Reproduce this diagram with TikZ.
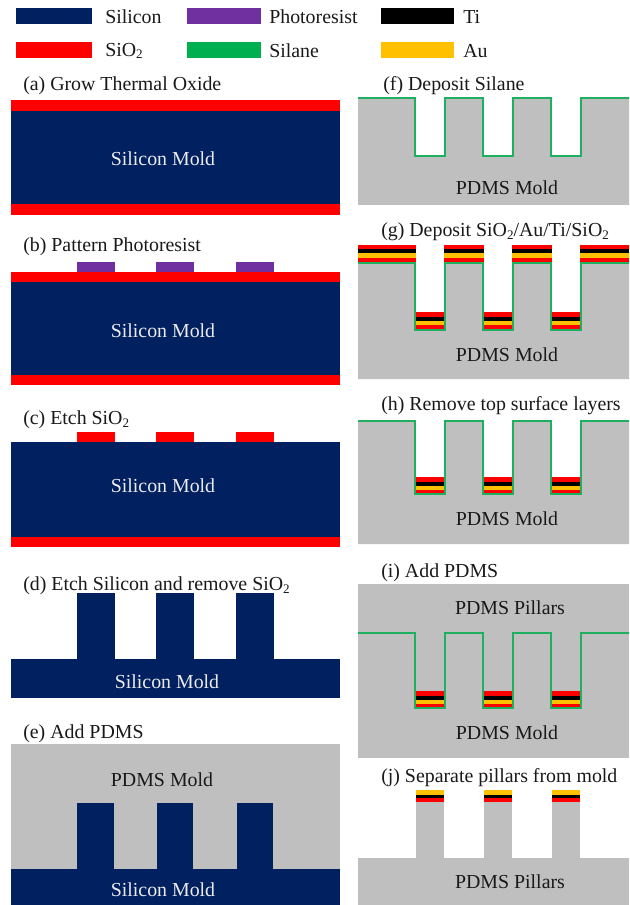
\documentclass[tikz,border=0pt]{standalone}
\usepackage{fontspec}
\setmainfont{Liberation Serif}
\definecolor{navy}{HTML}{002060}
\definecolor{oxred}{HTML}{FF0000}
\definecolor{purp}{HTML}{7030A0}
\definecolor{silane}{HTML}{00B050}
\definecolor{silaneln}{HTML}{1FAF60}
\definecolor{gold}{HTML}{FFC000}
\definecolor{pdms}{HTML}{BFBFBF}
\tikzset{
  captext/.style={anchor=west,inner sep=0pt,text=black!90,font=\fontsize{14.9}{16}\selectfont},
  lbl/.style={anchor=center,inner sep=0pt,text=black!90,font=\fontsize{14.9}{16}\selectfont},
  wlbl/.style={lbl,text=white!92!black},
  silaneline/.style={draw=silaneln,line width=1.8pt,line join=miter},
  thinsilane/.style={draw=silaneln,line width=1.3pt,line join=miter}
}
\newcommand{\subtwo}{\raisebox{-0.28ex}{\fontsize{9.8}{10}\selectfont 2}}
% rectangle by left,top,right,bottom in reference pixels
\newcommand{\bx}[5]{\fill[#1] (#2,#3) rectangle (#4,#5);}
% metal stack, full (red/black/gold/red): left,right,top
\newcommand{\stackbox}[3]{%
  \fill[oxred] (#1,#3) rectangle (#2,#3+17.5);
  \fill[black] (#1,#3+4.5) rectangle (#2,#3+8.5);
  \fill[gold] (#1,#3+8.5) rectangle (#2,#3+13);}
% silane profile at top level #1, bottom level #2
\newcommand{\silprof}[3]{%
  \draw[#3] (358,#1) -- (415,#1) -- (415,#2) -- (445,#2) -- (445,#1)
    -- (483,#1) -- (483,#2) -- (513,#2) -- (513,#1)
    -- (551,#1) -- (551,#2) -- (581,#2) -- (581,#1) -- (629,#1);}
% grey mold with trenches: top, trench bottom, bottom
\newcommand{\moldbody}[3]{%
  \fill[pdms] (358,#1) -- (415,#1) -- (415,#2) -- (445,#2) -- (445,#1)
    -- (483,#1) -- (483,#2) -- (513,#2) -- (513,#1)
    -- (551,#1) -- (551,#2) -- (581,#2) -- (581,#1) -- (629,#1) -- (629,#3) -- (358,#3) -- cycle;}
\begin{document}
\begin{tikzpicture}[x=0.75pt,y=-0.75pt]
\useasboundingbox (0,0) rectangle (629,905);
% legend
\bx{navy}{16}{8}{92}{24}
\bx{purp}{187}{8}{261}{24}
\bx{black}{381}{8}{454}{24}
\bx{oxred}{16}{42}{92}{58}
\bx{silane}{187}{42}{261}{58}
\bx{gold}{381}{42}{454}{58}
\node[captext] (l1) at (105,17) {Silicon};
\node[captext] (l2) at (269,17) {Photoresist};
\node[captext] (l3) at (463,17) {Ti};
\node[captext] (l4) at (105,51) {SiO\subtwo};
\node[captext] (l5) at (269,51) {Silane};
\node[captext] (l6) at (463,51) {Au};
% (a)
\node[captext] (ca) at (23,85.5) {(a) Grow Thermal Oxide};
\bx{oxred}{11}{100}{340}{215}
\bx{navy}{11}{111}{340}{204}
\node[wlbl] (ta) at (163,159) {Silicon Mold};
% (b)
\node[captext] (cb) at (23,246.5) {(b) Pattern Photoresist};
\bx{purp}{77}{262}{115}{273}
\bx{purp}{156}{262}{194}{273}
\bx{purp}{236}{262}{274}{273}
\bx{oxred}{11}{272}{340}{385}
\bx{navy}{11}{282}{340}{375}
\node[wlbl] (tb) at (163,331) {Silicon Mold};
% (c)
\node[captext] (cc) at (23,420) {(c) Etch SiO\subtwo};
\bx{oxred}{77}{432}{115}{443}
\bx{oxred}{156}{432}{194}{443}
\bx{oxred}{236}{432}{274}{443}
\bx{navy}{11}{442}{340}{537}
\bx{oxred}{11}{537}{340}{547}
\node[wlbl] (tc) at (163,486) {Silicon Mold};
% (d)
\node[captext] (cd) at (23,586) {(d) Etch Silicon and remove SiO\subtwo};
\bx{navy}{77}{593}{115}{660}
\bx{navy}{156}{593}{194}{660}
\bx{navy}{236}{593}{274}{660}
\bx{navy}{11}{659}{340}{698}
\node[wlbl] (td) at (167,682) {Silicon Mold};
% (e)
\node[captext] (ce) at (23,734) {(e) Add PDMS};
\bx{pdms}{11}{744}{340}{869}
\bx{navy}{77}{803}{114}{870}
\bx{navy}{157}{803}{193}{870}
\bx{navy}{237}{803}{273}{870}
\bx{navy}{11}{869}{340}{905}
\node[lbl] (te1) at (162,780) {PDMS Mold};
\node[wlbl] (te2) at (163,890) {Silicon Mold};
% (f)
\node[captext] (cf) at (383,85.5) {(f) Deposit Silane};
\moldbody{98}{156}{205}
\silprof{98}{156}{silaneline}
\node[lbl] (tf) at (507,188) {PDMS Mold};
% (g)
\node[captext] (cg) at (381,232) {(g) Deposit SiO\subtwo/Au/Ti/SiO\subtwo};
\moldbody{263}{330}{379}
\stackbox{358}{416}{245}
\stackbox{444}{484}{245}
\stackbox{512}{552}{245}
\stackbox{580}{629}{245}
\stackbox{416}{444}{312}
\stackbox{484}{512}{312}
\stackbox{552}{580}{312}
\silprof{263}{330}{silaneline}
\node[lbl] (tg) at (507,355) {PDMS Mold};
% (h)
\node[captext] (ch) at (381,406) {(h) Remove top surface layers};
\moldbody{421}{494}{544}
\stackbox{416}{444}{477}
\stackbox{484}{512}{477}
\stackbox{552}{580}{477}
\silprof{421}{494}{silaneline}
\node[lbl] (th) at (507,519) {PDMS Mold};
% (i)
\node[captext] (ci) at (381,573) {(i) Add PDMS};
\bx{pdms}{358}{584}{629}{758}
\stackbox{416}{444}{691}
\stackbox{484}{512}{691}
\stackbox{552}{580}{691}
\silprof{633}{708}{thinsilane}
\node[lbl] (ti1) at (510,608) {PDMS Pillars};
\node[lbl] (ti2) at (507,733) {PDMS Mold};
% (j)
\node[captext] (cj) at (381,777.5) {(j) Separate pillars from mold};
\bx{pdms}{416}{800}{444}{860}
\bx{pdms}{484}{800}{512}{860}
\bx{pdms}{552}{800}{580}{860}
\foreach \xa/\xb in {416/444,484/512,552/580}{
  \fill[oxred] (\xa,790) rectangle (\xb,802);
  \fill[gold] (\xa,790) rectangle (\xb,794.5);
  \fill[black] (\xa,794.5) rectangle (\xb,798);
}
\bx{pdms}{358}{858}{629}{905}
\node[lbl] (tj) at (510,882) {PDMS Pillars};
\end{tikzpicture}
\end{document}
